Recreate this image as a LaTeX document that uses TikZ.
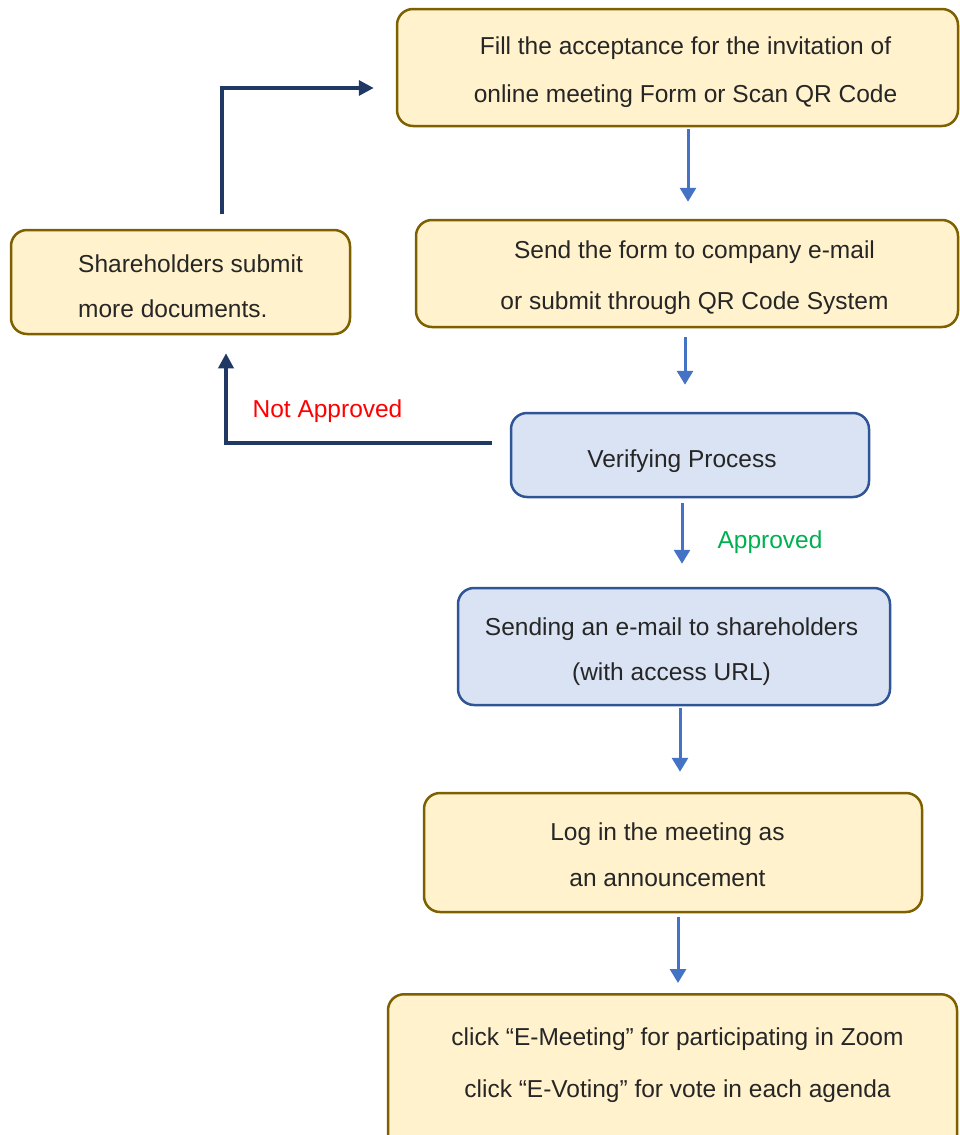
\documentclass[tikz,border=0pt]{standalone}
\usepackage{fontspec}
\setmainfont{Liberation Sans}
\usetikzlibrary{arrows.meta,calc}
\definecolor{yfill}{HTML}{FFF2CC}
\definecolor{ydraw}{HTML}{7F6000}
\definecolor{bfill}{HTML}{DAE3F3}
\definecolor{bdraw}{HTML}{2F5597}
\definecolor{barrow}{HTML}{4472C4}
\definecolor{navy}{HTML}{1F3864}
\definecolor{txt}{HTML}{262626}
\definecolor{okgreen}{HTML}{00B050}
\begin{document}
\begin{tikzpicture}[x=1pt,y=-1pt,
  boxbase/.style={rounded corners=16pt, line width=2.5pt, inner sep=0pt},
  ybox/.style={boxbase, fill=yfill, draw=ydraw},
  bbox/.style={boxbase, fill=bfill, draw=bdraw},
  boxtext/.style={inner sep=0pt, align=center, text=txt, font=\fontsize{24.5}{#1}\selectfont},
  boxtext/.default=48,
  bluearrow/.style={draw=barrow, line width=3pt, -{Triangle[width=16pt,length=14pt]}},
  navyarrow/.style={draw=navy, line width=3.5pt, -{Triangle[width=15pt,length=15pt]}},
  lbl/.style={font=\fontsize{24.5}{28}\selectfont, inner sep=0pt}
]
\useasboundingbox (0,0) rectangle (959,1135);
% boxes
\node[ybox, minimum width=561pt, minimum height=117pt] (b1) at (677.5,67.5) {};
\node[ybox, minimum width=542pt, minimum height=107pt] (b2) at (687,273.5) {};
\node[ybox, minimum width=339pt, minimum height=104pt] (b3) at (180.5,282) {};
\node[bbox, minimum width=358pt, minimum height=84pt] (b4) at (690,455) {};
\node[bbox, minimum width=432pt, minimum height=117pt] (b5) at (674,646.5) {};
\node[ybox, minimum width=498pt, minimum height=119pt] (b6) at (673,852.5) {};
\node[ybox, minimum width=569pt, minimum height=160pt, anchor=north] (b7) at (672.5,993) {};
% box texts
\node[boxtext] (t1) at (685.5,72.5) {Fill the acceptance for the invitation of\\online meeting Form or Scan QR Code};
\node[boxtext=51] (t2) at (694.5,278) {Send the form to company e-mail\\or submit through QR Code System};
\node[boxtext=45, align=left, anchor=west] (t3) at (78,286) {Shareholders submit\\more documents.};
\node[boxtext] (t4) at (682,461.5) {Verifying Process};
\node[boxtext=45] (t5) at (671.5,651.5) {Sending an e-mail to shareholders\\(with access URL)};
\node[boxtext=46] (t6) at (667.5,854.5) {Log in the meeting as\\an announcement};
\node[boxtext=52] (t7) at (677.5,1065) {click “E-Meeting” for participating in Zoom\\click “E-Voting” for vote in each agenda};
% arrow x positions
\coordinate (x1) at (688,0);
\coordinate (x2) at (685,0);
\coordinate (x3) at (682,0);
\coordinate (x4) at (680,0);
\coordinate (x5) at (678,0);
\draw[bluearrow] ($(b1.south -| x1)+(0,2)$) -- ($(b2.north -| x1)+(0,-17)$);
\draw[bluearrow] ($(b2.south -| x2)+(0,9)$) -- ($(b4.north -| x2)+(0,-27)$);
\draw[bluearrow] ($(b4.south -| x3)+(0,5)$) -- ($(b5.north -| x3)+(0,-23)$);
\draw[bluearrow] ($(b5.south -| x4)+(0,2)$) -- ($(b6.north -| x4)+(0,-20)$);
\draw[bluearrow] ($(b6.south -| x5)+(0,4)$) -- ($(b7.north -| x5)+(0,-10)$);
% navy connectors
\coordinate (c1) at (226,443);
\coordinate (c2) at (222,88);
\draw[navyarrow] ($(b4.west |- c1)+(-18,0)$) -- (c1) -- ($(b3.south -| c1)+(0,18)$);
\draw[navyarrow] ($(b3.north -| c2)+(0,-15)$) -- (c2) -- ($(b1.west |- c2)+(-22,0)$);
% labels
\node[lbl, text=red] (na) at (327.5,411) {Not Approved};
\node[lbl, text=okgreen] (ap) at (770,542) {Approved};
\end{tikzpicture}
\end{document}
